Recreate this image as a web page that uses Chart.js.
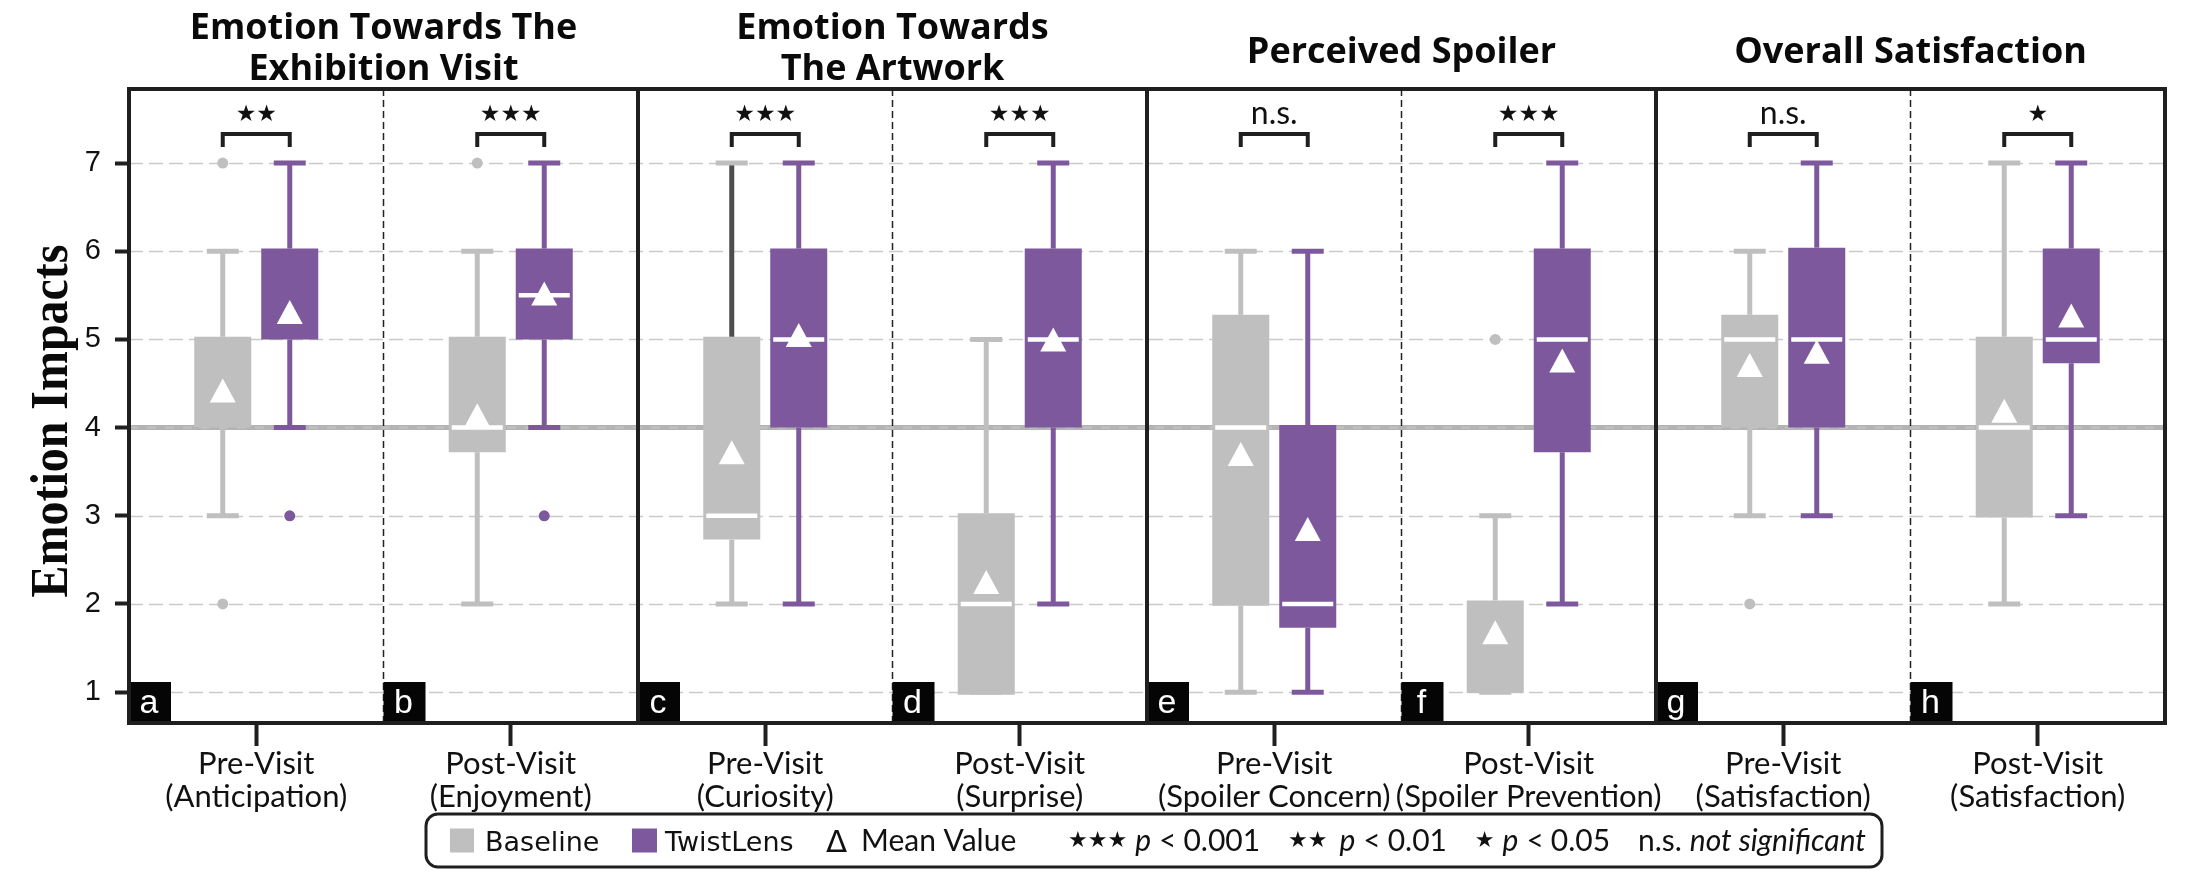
<!DOCTYPE html>
<html>
<head>
<meta charset="utf-8">
<script src="https://cdn.jsdelivr.net/npm/chart.js@4.4.1/dist/chart.umd.min.js"></script>
<style>
  html, body { margin: 0; padding: 0; background: #ffffff; }
  #wrap { width: 2188px; height: 890px; position: relative; }
</style>
</head>
<body>
<div id="wrap"><canvas id="c"></canvas></div>
<script>
// ---------------- DATA ----------------
const categories = [
  ["Pre-Visit", "(Anticipation)"],
  ["Post-Visit", "(Enjoyment)"],
  ["Pre-Visit", "(Curiosity)"],
  ["Post-Visit", "(Surprise)"],
  ["Pre-Visit", "(Spoiler Concern)"],
  ["Post-Visit", "(Spoiler Prevention)"],
  ["Pre-Visit", "(Satisfaction)"],
  ["Post-Visit", "(Satisfaction)"]
];
const groupTitles = [
  ["Emotion Towards The", "Exhibition Visit"],
  ["Emotion Towards", "The Artwork"],
  ["Perceived Spoiler"],
  ["Overall Satisfaction"]
];
const panelLetters = ["a", "b", "c", "d", "e", "f", "g", "h"];
const significance = ["**", "***", "***", "***", "n.s.", "***", "n.s.", "*"];
const yTicks = [1, 2, 3, 4, 5, 6, 7];
const referenceValue = 4;

const baselineMin     = [3, 2, 2, 1, 1, 1, 3, 2];
const baselineQ1      = [4, 3.72, 2.73, 0.97, 1.98, 0.99, 4, 2.98];
const baselineMedian  = [null, 4, 3, 2, 4, null, 5, 4];
const baselineQ3      = [5.03, 5.03, 5.03, 3.03, 5.28, 2.04, 5.28, 5.03];
const baselineMax     = [6, 6, 7, 5, 6, 3, 6, 7];
const baselineMean    = [4.42, 4.14, 3.72, 2.25, 3.70, 1.68, 4.71, 4.19];
const baselineOutliers = [[7, 2], [7], [], [], [], [5], [2], []];

const twistMin     = [4, 4, 2, 2, 1, 2, 3, 3];
const twistQ1      = [5, 5, 4, 4, 1.73, 3.72, 4, 4.73];
const twistMedian  = [null, 5.5, 5, 5, 2, 5, 5, 5];
const twistQ3      = [6.03, 6.03, 6.03, 6.03, 4.03, 6.03, 6.04, 6.03];
const twistMax     = [7, 7, 7, 7, 6, 7, 7, 7];
const twistMean    = [5.31, 5.52, 5.05, 5.00, 2.85, 4.76, 4.86, 5.27];
const twistOutliers = [[3], [3], [], [], [], [], [], []];

// ---------------- STYLE ----------------
const GRAY = '#bfbfbf';
const PURPLE = '#7d589d';
const INK = '#1f1f1f';
const series = [
  { min: baselineMin, q1: baselineQ1, med: baselineMedian, q3: baselineQ3, max: baselineMax, mean: baselineMean, out: baselineOutliers, color: GRAY },
  { min: twistMin, q1: twistQ1, med: twistMedian, q3: twistQ3, max: twistMax, mean: twistMean, out: twistOutliers, color: PURPLE }
];
const darkWhisker = { dataset: 0, index: 2, color: '#4d4d4d' }; // upper whisker drawn dark in the original

const F_TITLE = 'bold 36px "Open Sans", "Noto Sans", sans-serif';
const F_LABEL = 'Lato, "Open Sans", sans-serif';
const F_SANS = '"DejaVu Sans", sans-serif';
const STAR_FONT = '22px "DejaVu Sans", sans-serif';
const starText = s => s.replace(/\*/g, '\u2605');

function line(ctx, x1, y1, x2, y2) { ctx.beginPath(); ctx.moveTo(x1, y1); ctx.lineTo(x2, y2); ctx.stroke(); }

const boxPlugin = {
  id: 'boxPlugin',
  beforeDatasetsDraw(chart) {
    const { ctx, chartArea: a, scales: { x, y } } = chart;
    ctx.save();
    ctx.strokeStyle = '#c9c9c9'; ctx.lineWidth = 1.5; ctx.setLineDash([14, 6]);
    yTicks.forEach(v => { const py = Math.round(y.getPixelForValue(v)) + 0.5; line(ctx, a.left, py, a.right, py); });
    ctx.setLineDash([]);
    const ry = y.getPixelForValue(referenceValue);
    ctx.strokeStyle = '#b3b3b3'; ctx.lineWidth = 5; line(ctx, a.left, ry, a.right, ry);
    ctx.strokeStyle = '#c2c2c2'; ctx.lineWidth = 2; ctx.setLineDash([9, 9]); line(ctx, a.left, ry, a.right, ry);
    const catW = x.getPixelForValue(1) - x.getPixelForValue(0);
    ctx.strokeStyle = '#222'; ctx.lineWidth = 1.5; ctx.setLineDash([7, 4]);
    for (let i = 0; i < categories.length; i += 2) {
      const bx = x.getPixelForValue(i) + catW / 2;
      line(ctx, bx, a.top, bx, a.bottom);
    }
    ctx.restore();
  },
  afterDatasetsDraw(chart) {
    const { ctx, chartArea: a, scales: { x, y } } = chart;
    ctx.save();
    const catW = x.getPixelForValue(1) - x.getPixelForValue(0);
    const centers = [];
    series.forEach((s, d) => {
      const meta = chart.getDatasetMeta(d);
      centers[d] = [];
      meta.data.forEach((el, i) => {
        const cx = el.x, w = el.width;
        centers[d][i] = cx;
        const capW = 32;
        ctx.lineCap = 'butt';
        ctx.lineWidth = 5;
        ctx.strokeStyle = s.color;
        if (s.min[i] < s.q1[i]) line(ctx, cx, y.getPixelForValue(s.q1[i]), cx, y.getPixelForValue(s.min[i]));
        ctx.strokeStyle = (darkWhisker.dataset === d && darkWhisker.index === i) ? darkWhisker.color : s.color;
        if (s.max[i] > s.q3[i]) line(ctx, cx, y.getPixelForValue(s.q3[i]), cx, y.getPixelForValue(s.max[i]));
        ctx.strokeStyle = s.color; ctx.lineWidth = 5;
        [s.min[i], s.max[i]].forEach(v => { const py = y.getPixelForValue(v); line(ctx, cx - capW / 2, py, cx + capW / 2, py); });
        if (s.med[i] !== null) {
          const py = y.getPixelForValue(s.med[i]);
          ctx.strokeStyle = '#ffffff'; ctx.lineWidth = 4.5;
          line(ctx, cx - w / 2 + 3, py, cx + w / 2 - 3, py);
        }
        const my = y.getPixelForValue(s.mean[i]);
        const tw = 26, th = 24;
        ctx.fillStyle = '#ffffff';
        ctx.beginPath();
        ctx.moveTo(cx, my - th / 2); ctx.lineTo(cx + tw / 2, my + th / 2); ctx.lineTo(cx - tw / 2, my + th / 2);
        ctx.closePath(); ctx.fill();
        ctx.fillStyle = s.color;
        s.out[i].forEach(v => { ctx.beginPath(); ctx.arc(cx, y.getPixelForValue(v), 5.5, 0, Math.PI * 2); ctx.fill(); });
      });
    });
    // significance brackets
    ctx.strokeStyle = INK; ctx.lineWidth = 4; ctx.lineCap = 'butt'; ctx.lineJoin = 'miter';
    significance.forEach((sig, i) => {
      const x1 = centers[0][i], x2 = centers[1][i];
      const top = a.top + 45, leg = a.top + 58;
      ctx.beginPath(); ctx.moveTo(x1, leg); ctx.lineTo(x1, top); ctx.lineTo(x2, top); ctx.lineTo(x2, leg); ctx.stroke();
      ctx.fillStyle = '#111'; ctx.textAlign = 'center';
      const mx = (x1 + x2) / 2;
      if (sig.startsWith('*')) {
        ctx.font = '23px "DejaVu Sans", sans-serif'; ctx.textBaseline = 'middle';
        ctx.fillText(starText(sig), mx, a.top + 26);
      } else {
        ctx.font = '32px ' + F_LABEL; ctx.textBaseline = 'alphabetic';
        ctx.fillText(sig, mx, a.top + 35);
      }
    });
    // panel letters
    ctx.textAlign = 'center'; ctx.textBaseline = 'alphabetic';
    panelLetters.forEach((L, i) => {
      const bx = x.getPixelForValue(i) - catW / 2;
      ctx.fillStyle = '#050505';
      ctx.fillRect(bx, a.bottom - 41, 42, 41);
      ctx.fillStyle = '#ffffff';
      ctx.font = '34px "Liberation Sans Narrow", "Liberation Sans", sans-serif';
      ctx.fillText(L, bx + 20, a.bottom - 10);
    });
    ctx.strokeStyle = INK; ctx.lineWidth = 4; ctx.setLineDash([]);
    for (let i = 1; i < categories.length - 1; i += 2) {
      const bx = x.getPixelForValue(i) + catW / 2;
      line(ctx, bx, a.top, bx, a.bottom);
    }
    ctx.strokeRect(a.left, a.top, a.right - a.left, a.bottom - a.top);
    ctx.restore();
  },
  afterDraw(chart) {
    const { ctx, chartArea: a, scales: { x } } = chart;
    ctx.save();
    const catW = x.getPixelForValue(1) - x.getPixelForValue(0);
    // group titles
    ctx.fillStyle = '#0a0a0a'; ctx.font = F_TITLE; ctx.textAlign = 'center'; ctx.textBaseline = 'alphabetic';
    groupTitles.forEach((lines, g) => {
      const cx = x.getPixelForValue(2 * g) + catW / 2;
      if (lines.length === 2) {
        ctx.fillText(lines[0], cx, a.top - 50);
        ctx.fillText(lines[1], cx, a.top - 9);
      } else {
        ctx.fillText(lines[0], cx, a.top - 26);
      }
    });
    // y axis title
    ctx.save();
    ctx.font = 'bold 52px "Liberation Serif", "DejaVu Serif", serif';
    const tW = ctx.measureText('Emotion Impacts').width;
    ctx.translate(67, 421);
    ctx.rotate(-Math.PI / 2);
    ctx.scale(353 / tW, 1);
    ctx.textAlign = 'center'; ctx.textBaseline = 'alphabetic';
    ctx.fillText('Emotion Impacts', 0, 0);
    ctx.restore();
    // legend
    const L = { x: 426, y: 814, w: 1456, h: 53 };
    ctx.strokeStyle = INK; ctx.lineWidth = 3;
    ctx.beginPath(); ctx.roundRect(L.x, L.y, L.w, L.h, 12); ctx.stroke();
    const cy = L.y + L.h / 2;
    ctx.fillStyle = GRAY; ctx.fillRect(450, cy - 12, 24, 24);
    ctx.fillStyle = PURPLE; ctx.fillRect(632, cy - 12, 25, 24);
    ctx.fillStyle = '#111'; ctx.textAlign = 'left'; ctx.textBaseline = 'alphabetic';
    const base = cy + 10;
    ctx.font = '27px ' + F_SANS;
    ctx.fillText('Baseline', 485, base);
    ctx.fillText('TwistLens', 665, base);
    ctx.font = '31px ' + F_SANS;
    ctx.fillText('\u0394', 826, base + 1);
    ctx.font = '30px ' + F_LABEL;
    ctx.fillText('Mean Value', 861, base);
    const REG = '30px ' + F_LABEL, IT = 'italic 30px ' + F_LABEL;
    const seq = [
      [starText('***'), STAR_FONT], [8], ['p', IT], [8], ['<', REG], [7], ['0.001', REG], ['G'],
      [starText('**'), STAR_FONT], [12], ['p', IT], [8], ['<', REG], [7], ['0.01', REG], ['G'],
      [starText('*'), STAR_FONT], [8], ['p', IT], [8], ['<', REG], [7], ['0.05', REG], ['G'],
      ['n.s.', REG], [8], ['not significant', IT]
    ];
    const startX = 1068, endX = 1866;
    let fixed = 0, nG = 0;
    seq.forEach(it => {
      if (it.length === 2) { ctx.font = it[1]; fixed += ctx.measureText(it[0]).width; }
      else if (it[0] === 'G') nG++;
      else fixed += it[0];
    });
    const G = (endX - startX - fixed) / nG;
    let px = startX;
    seq.forEach(it => {
      if (it.length === 2) {
        ctx.font = it[1];
        if (it[1] === STAR_FONT) { ctx.textBaseline = 'middle'; ctx.fillText(it[0], px, cy + 1); ctx.textBaseline = 'alphabetic'; }
        else ctx.fillText(it[0], px, base);
        px += ctx.measureText(it[0]).width;
      } else if (it[0] === 'G') px += G;
      else px += it[0];
    });
    ctx.restore();
  }
};

new Chart(document.getElementById('c'), {
  type: 'bar',
  data: {
    labels: categories,
    datasets: series.map((s, d) => ({
      label: d === 0 ? 'Baseline' : 'TwistLens',
      data: categories.map((_, i) => [s.q1[i], s.q3[i]]),
      backgroundColor: s.color,
      borderWidth: 0,
      borderSkipped: false
    }))
  },
  options: {
    responsive: true,
    maintainAspectRatio: false,
    animation: false,
    devicePixelRatio: 1,
    layout: { padding: { left: 0, top: 89, right: 23, bottom: 0 } },
    plugins: { legend: { display: false }, tooltip: { enabled: false } },
    datasets: { bar: { categoryPercentage: 0.5265, barPercentage: 0.851 } },
    scales: {
      x: {
        type: 'category',
        offset: true,
        grid: { display: true, drawOnChartArea: false, drawTicks: true, offset: false, tickLength: 23, tickWidth: 4, tickColor: INK },
        border: { display: false },
        ticks: { font: { family: F_LABEL, size: 31, lineHeight: 1.07 }, color: '#111', padding: 1, maxRotation: 0, autoSkip: false },
        afterFit(s) { s.height = 167; }
      },
      y: {
        min: 0.65,
        max: 7.84,
        afterBuildTicks(s) { s.ticks = yTicks.map(v => ({ value: v })); },
        grid: { drawOnChartArea: false, drawTicks: true, tickLength: 14, tickWidth: 4, tickColor: INK },
        border: { display: false },
        ticks: { font: { family: '"Liberation Sans", Arial, sans-serif', size: 29 }, color: '#111', padding: 14 },
        afterFit(s) { s.width = 129; }
      }
    }
  },
  plugins: [boxPlugin]
});
</script>
</body>
</html>
